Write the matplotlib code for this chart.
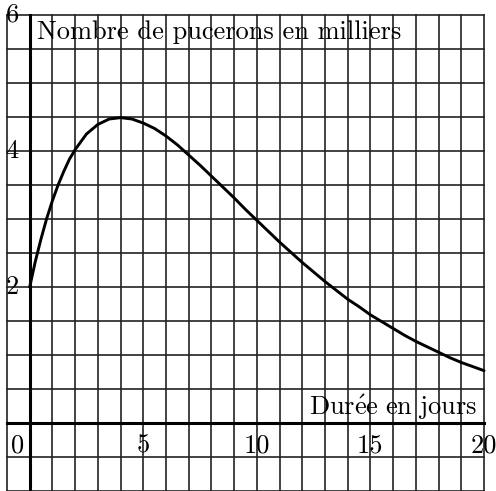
import numpy as np
import matplotlib
matplotlib.use("Agg")
import matplotlib.pyplot as plt

plt.rcParams['mathtext.fontset'] = 'cm'
plt.rcParams['font.family'] = ['cmr10', 'DejaVu Serif']

# values (days, thousands of aphids)
jours = [0, 0.25, 0.5, 0.75, 1, 1.25, 1.5, 1.75, 2, 2.5, 3, 3.5, 4, 4.5, 5,
         5.5, 6, 6.5, 7, 7.5, 8, 8.5, 9, 9.5, 10, 10.5, 11, 11.5, 12, 12.5,
         13, 13.5, 14, 14.5, 15, 15.5, 16, 16.5, 17, 17.5, 18, 18.5, 19,
         19.5, 20]
pucerons = [2.0, 2.38, 2.71, 3.01, 3.27, 3.50, 3.70, 3.88, 4.02, 4.25, 4.39,
            4.47, 4.49, 4.47, 4.41, 4.33, 4.22, 4.09, 3.94, 3.79, 3.63, 3.47,
            3.31, 3.14, 2.98, 2.82, 2.66, 2.51, 2.36, 2.22, 2.08, 1.95, 1.82,
            1.71, 1.59, 1.49, 1.39, 1.29, 1.20, 1.12, 1.04, 0.96, 0.89, 0.83,
            0.77]

xticks = [5, 10, 15, 20]
yticks = [2, 4, 6]

fig = plt.figure(figsize=(4.96, 4.91), dpi=100)
ax = fig.add_axes([0, 0, 1, 1])
ax.set_xlim(-1.308, 20.528)
ax.set_ylim(-1.0, 6.22)
ax.axis('off')

# grid
for gx in range(-1, 21):
    ax.plot([gx, gx], [-1, 6], color='#222222', lw=1.2, zorder=1)
for gy in np.arange(-1, 6.01, 0.5):
    ax.plot([-1, 20], [gy, gy], color='#222222', lw=1.2, zorder=1)

# axes
ax.plot([0, 0], [-1, 6], color='black', lw=2.2, zorder=2)
ax.plot([-1, 20], [0, 0], color='black', lw=2.2, zorder=2)

# curve
ax.plot(jours, pucerons, color='black', lw=2.1, zorder=3,
        solid_capstyle='round', solid_joinstyle='round')

fs = 19
for t in xticks:
    ax.text(t, -0.33, str(t), ha='center', va='center', fontsize=fs)
ax.text(-0.55, -0.33, '0', ha='center', va='center', fontsize=fs)
for t in yticks:
    ax.text(-1.06, t, str(t), ha='left', va='center', fontsize=fs)

ax.text(0.31, 5.65, 'Nombre de pucerons en milliers', ha='left',
        va='baseline', fontsize=fs)
ax.text(19.68, 0.12, r'$\mathrm{Dur\acute{e}e\ en\ jours}$', ha='right',
        va='baseline', fontsize=fs)

fig.savefig('out.png', dpi=100)
